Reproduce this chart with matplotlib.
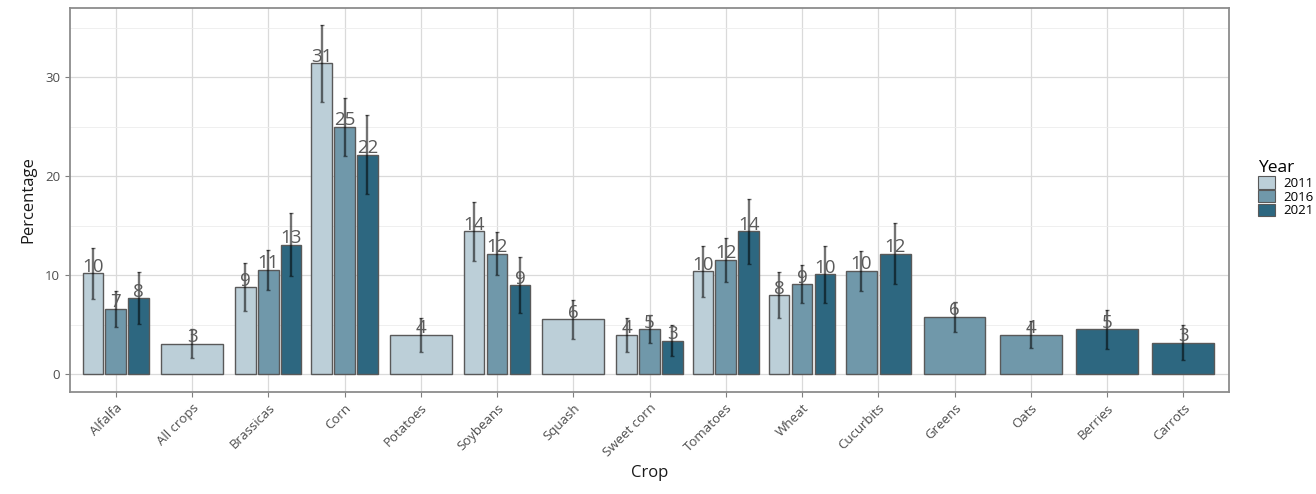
import numpy as np
import matplotlib
matplotlib.use("Agg")
import matplotlib.pyplot as plt
from matplotlib.patches import Patch

plt.rcParams['font.family'] = ['Open Sans', 'DejaVu Sans']

crops = ["Alfalfa", "All crops", "Brassicas", "Corn", "Potatoes", "Soybeans",
         "Squash", "Sweet corn", "Tomatoes", "Wheat", "Cucurbits", "Greens",
         "Oats", "Berries", "Carrots"]
years = ["2011", "2016", "2021"]
nan = np.nan
val_2011 = [10.2, 3.1, 8.8, 31.4, 4.0, 14.45, 5.55, 4.0, 10.4, 8.0, nan, nan, nan, nan, nan]
err_2011 = [2.6, 1.5, 2.4, 3.9, 1.7, 3.0, 1.95, 1.7, 2.6, 2.3, nan, nan, nan, nan, nan]
val_2016 = [6.6, nan, 10.55, 25.0, nan, 12.2, nan, 4.55, 11.55, 9.1, 10.45, 5.8, 4.0, nan, nan]
err_2016 = [1.8, nan, 2.05, 2.9, nan, 2.2, nan, 1.4, 2.2, 1.95, 2.05, 1.5, 1.35, nan, nan]
val_2021 = [7.7, nan, 13.1, 22.2, nan, 9.0, nan, 3.4, 14.45, 10.1, 12.2, nan, nan, 4.55, 3.2]
err_2021 = [2.6, nan, 3.2, 4.0, nan, 2.8, nan, 1.6, 3.3, 2.9, 3.1, nan, nan, 1.95, 1.75]
colors = ["#bccfd8", "#7098aa", "#2d6780"]

values = [val_2011, val_2016, val_2021]
errors = [err_2011, err_2016, err_2021]

fig = plt.figure(figsize=(13.16, 4.94), dpi=100)
ax = fig.add_axes([70/1316, 1 - 391.7/494, (1229 - 70)/1316, (391.7 - 8)/494])

total = 0.9
for ci in range(len(crops)):
    present = [yi for yi in range(3) if not np.isnan(values[yi][ci])]
    n = len(present)
    slot = total / n
    for k, yi in enumerate(present):
        xc = ci - total / 2 + (k + 0.5) * slot
        v = values[yi][ci]
        e = errors[yi][ci]
        ax.bar(xc, v, width=slot * 0.9, color=colors[yi], edgecolor="#595959",
               linewidth=1.0, zorder=2)
        ax.errorbar(xc, v, yerr=e, fmt="none", ecolor=(0, 0, 0, 0.55),
                    elinewidth=1.7, capsize=1.2, capthick=1.0, zorder=3)
        ax.text(xc, v - 0.25, f"{v:.0f}", ha="center", va="bottom",
                fontsize=13.5, color="#5a5a5a", zorder=4)

ax.set_xlim(-0.6, len(crops) - 1 + 0.6)
ax.set_ylim(-1.76, 37.0)
ax.set_xticks(range(len(crops)))
ax.set_xticklabels(crops, rotation=45, ha="right", rotation_mode="anchor",
                   fontsize=9.5, color="#4d4d4d")
ax.set_yticks([0, 10, 20, 30])
ax.set_yticks([5, 15, 25, 35], minor=True)
ax.tick_params(axis="y", labelsize=9.5, labelcolor="#4d4d4d", color="#7f7f7f",
               length=3.5)
ax.tick_params(axis="x", color="#7f7f7f", length=3.5)
ax.tick_params(axis="y", which="minor", length=0)
ax.grid(True, which="major", color="#dadada", linewidth=0.9, zorder=0)
ax.grid(True, which="minor", axis="y", color="#ececec", linewidth=0.6, zorder=0)
ax.set_axisbelow(True)
for s in ax.spines.values():
    s.set_color("#8c8c8c")
    s.set_linewidth(1.3)

ax.set_ylabel("Percentage", fontsize=12, color="#1a1a1a", labelpad=6)
ax.set_xlabel("Crop", fontsize=12, color="#1a1a1a", labelpad=4)

handles = [Patch(facecolor=c, edgecolor="#595959", linewidth=0.8) for c in colors]
leg = fig.legend(handles, years, title="Year", loc="upper left",
                 bbox_to_anchor=(1258/1316, 1 - 160/494), frameon=False,
                 fontsize=9.5, title_fontsize=12.5, labelspacing=0.0,
                 handlelength=1.3, handleheight=1.1, handletextpad=0.6,
                 borderaxespad=0, borderpad=0)
leg._legend_box.align = "left"

fig.savefig("out.png", dpi=100)
